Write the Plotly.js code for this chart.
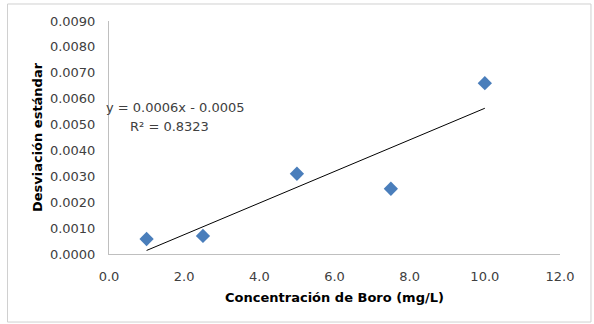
<!DOCTYPE html>
<html><head><meta charset="utf-8">
<script src="https://cdn.plot.ly/plotly-3.0.1.min.js"></script>
<style>html,body{margin:0;padding:0;background:#fff}#c{width:594px;height:324px}</style>
</head><body><div id="c"></div>
<script>
const concentration = [1.0, 2.5, 5.0, 7.5, 10.0];
const desviacion = [0.00058, 0.00070, 0.00310, 0.00252, 0.00660];
const xTicks = [0, 2, 4, 6, 8, 10, 12];
const yTicks = [0, 0.001, 0.002, 0.003, 0.004, 0.005, 0.006, 0.007, 0.008, 0.009];
const eqText = "y = 0.0006x - 0.0005";
const r2Text = "R² = 0.8323";

// linear least-squares trendline from the data
const n = concentration.length;
const mx = concentration.reduce((a,b)=>a+b,0)/n;
const my = desviacion.reduce((a,b)=>a+b,0)/n;
let sxy=0, sxx=0;
for (let i=0;i<n;i++){ sxy+=(concentration[i]-mx)*(desviacion[i]-my); sxx+=(concentration[i]-mx)**2; }
const slope = sxy/sxx, icpt = my - slope*mx;
const tx = [Math.min(...concentration), Math.max(...concentration)];
const ty = tx.map(v=>slope*v+icpt);

const font = "'DejaVu Sans', sans-serif";
const data = [
  {x: tx, y: ty, mode:'lines', line:{color:'#000', width:1}, hoverinfo:'skip'},
  {x: concentration, y: desviacion, mode:'markers', marker:{symbol:'diamond', size:11, color:'#4A7EBB', line:{width:0}}}
];
const layout = {
  width:594, height:324, showlegend:false,
  paper_bgcolor:'#fff', plot_bgcolor:'#fff',
  margin:{l:109, r:34, t:21, b:70},
  font:{family:font, size:13, color:'#404040'},
  xaxis:{range:[0,12], tickvals:xTicks, ticktext:xTicks.map(v=>v.toFixed(1)),
    showgrid:false, zeroline:false, showline:true, linecolor:'#BFBFBF', linewidth:1,
    ticks:'outside', ticklen:10, tickcolor:'rgba(0,0,0,0)',
    title:{text:'Concentración de Boro (mg/L)', font:{family:font, size:13, color:'#000', weight:'bold'}, standoff:10}},
  yaxis:{range:[0,0.009], tickvals:yTicks, ticktext:yTicks.map(v=>v.toFixed(4)),
    showgrid:false, zeroline:false, showline:true, linecolor:'#BFBFBF', linewidth:1,
    ticks:'outside', ticklen:10, tickcolor:'rgba(0,0,0,0)',
    title:{text:'Desviación estándar', font:{family:font, size:13, color:'#000', weight:'bold'}, standoff:4}},
  shapes:[{type:'rect', xref:'paper', yref:'paper', x0:-0.225, x1:1.0687, y0:-0.292, y1:1.073,
    line:{color:'#D0D0D0', width:1}, fillcolor:'rgba(0,0,0,0)', layer:'below'}],
  annotations:[
    {x:-0.011, y:0.00565, xref:'paper', yref:'y', text:eqText, showarrow:false, xanchor:'left', font:{family:font, size:13, color:'#404040'}},
    {x:1.62, y:0.00493, xref:'x', yref:'y', text:r2Text, showarrow:false, xanchor:'center', font:{family:font, size:13, color:'#404040'}}
  ]
};
Plotly.newPlot('c', data, layout, {displayModeBar:false, staticPlot:true});
</script></body></html>
